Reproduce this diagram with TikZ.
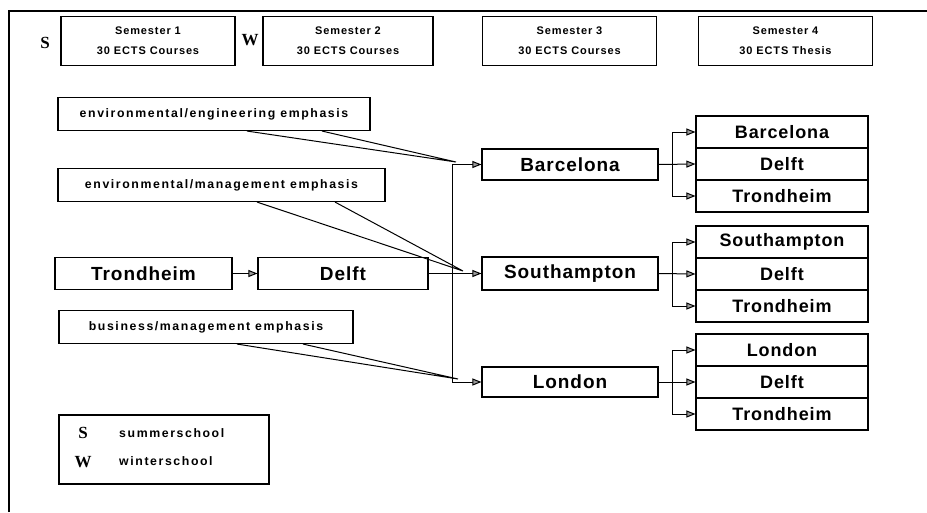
\documentclass[tikz,border=0pt]{standalone}
\usepackage{fontspec}
\setmainfont{Liberation Sans}
\newfontfamily\spacedfont[LetterSpace=13]{Liberation Sans}
\newfontfamily\headfont[LetterSpace=8]{Liberation Sans}
\newfontfamily\cityfont[LetterSpace=5]{Liberation Sans}
\newfontfamily\letterfont{Liberation Serif}
\usetikzlibrary{arrows.meta, positioning, calc}

\begin{document}
\begin{tikzpicture}[
  x=1pt, y=-1pt,
  box/.style={draw, line width=1.1pt, inner sep=0pt, align=center, fill=white},
  semester/.style={box, font=\headfont\bfseries\fontsize{11}{20}\selectfont, minimum width=174pt, minimum height=49pt},
  emphasis/.style={box, font=\spacedfont\bfseries\fontsize{12.3}{14}\selectfont, minimum height=33pt},
  city/.style={box, font=\cityfont\bfseries\fontsize{19}{22}\selectfont, minimum width=176pt, minimum height=32pt},
  choice/.style={box, font=\cityfont\bfseries\fontsize{18}{22}\selectfont, minimum width=172pt, minimum height=32pt},
  school/.style={font=\letterfont\bfseries\fontsize{17}{20}\selectfont, inner sep=0pt},
  legendtext/.style={font=\spacedfont\bfseries\fontsize{12.3}{14}\selectfont, inner sep=0pt, anchor=west},
  arrow/.style={-{Triangle[length=9pt,width=7pt,fill=black!40]}, line width=1pt},
  tail/.style={line width=1pt}
]
\useasboundingbox (0,0) rectangle (927,512);
% frame, cut off at the right and at the bottom
\draw[line width=1.1pt] (9,512) -- (9,11) -- (927,11);

% semester headers
\node[school] (sS) at (45,43) {S};
\node[semester] (sem1) at (148,41) {Semester 1\\30 ECTS Courses};
\node[school] (sW) at (250,40) {W};
\node[semester, minimum width=170pt] (sem2) at (348,41) {Semester 2\\30 ECTS Courses};
\node[semester] (sem3) at (569.5,41) {Semester 3\\30 ECTS Courses};
\node[semester] (sem4) at (785.5,41) {Semester 4\\30 ECTS Thesis};

% emphasis notes
\node[emphasis, minimum width=312pt] (engnote) at (214,114) {environmental/engineering emphasis};
\node[emphasis, minimum width=327pt] (mgmtnote) at (221.5,185) {environmental/management emphasis};
\node[emphasis, minimum width=294pt] (busnote) at (206,327) {business/management emphasis};

% first year
\node[city, minimum width=177pt] (trond) at (143.5,273.5) {Trondheim};
\node[city, minimum width=170pt] (delft) at (343,273.5) {Delft};

% semester 3
\node[city, minimum height=31pt] (barc) at (570,164.5) {Barcelona};
\node[city, minimum height=33pt] (soton) at (570,273.5) {Southampton};
\node[city, minimum height=30pt] (lond) at (570,382) {London};

% semester 4
\node[choice] (barcA) at (782,132) {Barcelona};
\node[choice] (barcB) at (782,164) {Delft};
\node[choice] (barcC) at (782,196) {Trondheim};
\node[choice] (sotonA) at (782,242) {Southampton};
\node[choice] (sotonB) at (782,274) {Delft};
\node[choice] (sotonC) at (782,306) {Trondheim};
\node[choice] (londA) at (782,350) {London};
\node[choice] (londB) at (782,382) {Delft};
\node[choice] (londC) at (782,414) {Trondheim};

% legend
\node[box, minimum width=210pt, minimum height=69pt] (legend) at (164,449.5) {};
\node[school] (legS) at (83,433) {S};
\node[legendtext] (legSt) at (119,433) {summerschool};
\node[school] (legW) at (83,462) {W};
\node[legendtext] (legWt) at (119,461) {winterschool};

% connectors
\coordinate (split) at (452,273.5);
\coordinate (tipeng) at (456,162);
\coordinate (tipmgmt) at (463,271);
\coordinate (tipbus) at (458,379);

\draw[arrow] (trond) -- (delft);
\draw[arrow] (delft) -- (soton);
\draw[arrow] (split) |- (barc.west);
\draw[arrow] (split) |- (lond.west);

\draw[tail] (engnote.south -| 247,0) -- (tipeng) -- (engnote.south -| 322,0);
\draw[tail] (mgmtnote.south -| 257,0) -- (tipmgmt) -- (mgmtnote.south -| 335,0);
\draw[tail] (busnote.south -| 237,0) -- (tipbus) -- (busnote.south -| 303,0);

\foreach \mid/\grp in {barc/barc, soton/soton, lond/lond} {
  \coordinate (\grp fork) at ($(\mid.east)+(14,0)$);
  \draw[arrow] (\mid.east) -- (\grp B.west);
  \draw[arrow] (\grp fork) |- (\grp A.west);
  \draw[arrow] (\grp fork) |- (\grp C.west);
}
\end{tikzpicture}
\end{document}
